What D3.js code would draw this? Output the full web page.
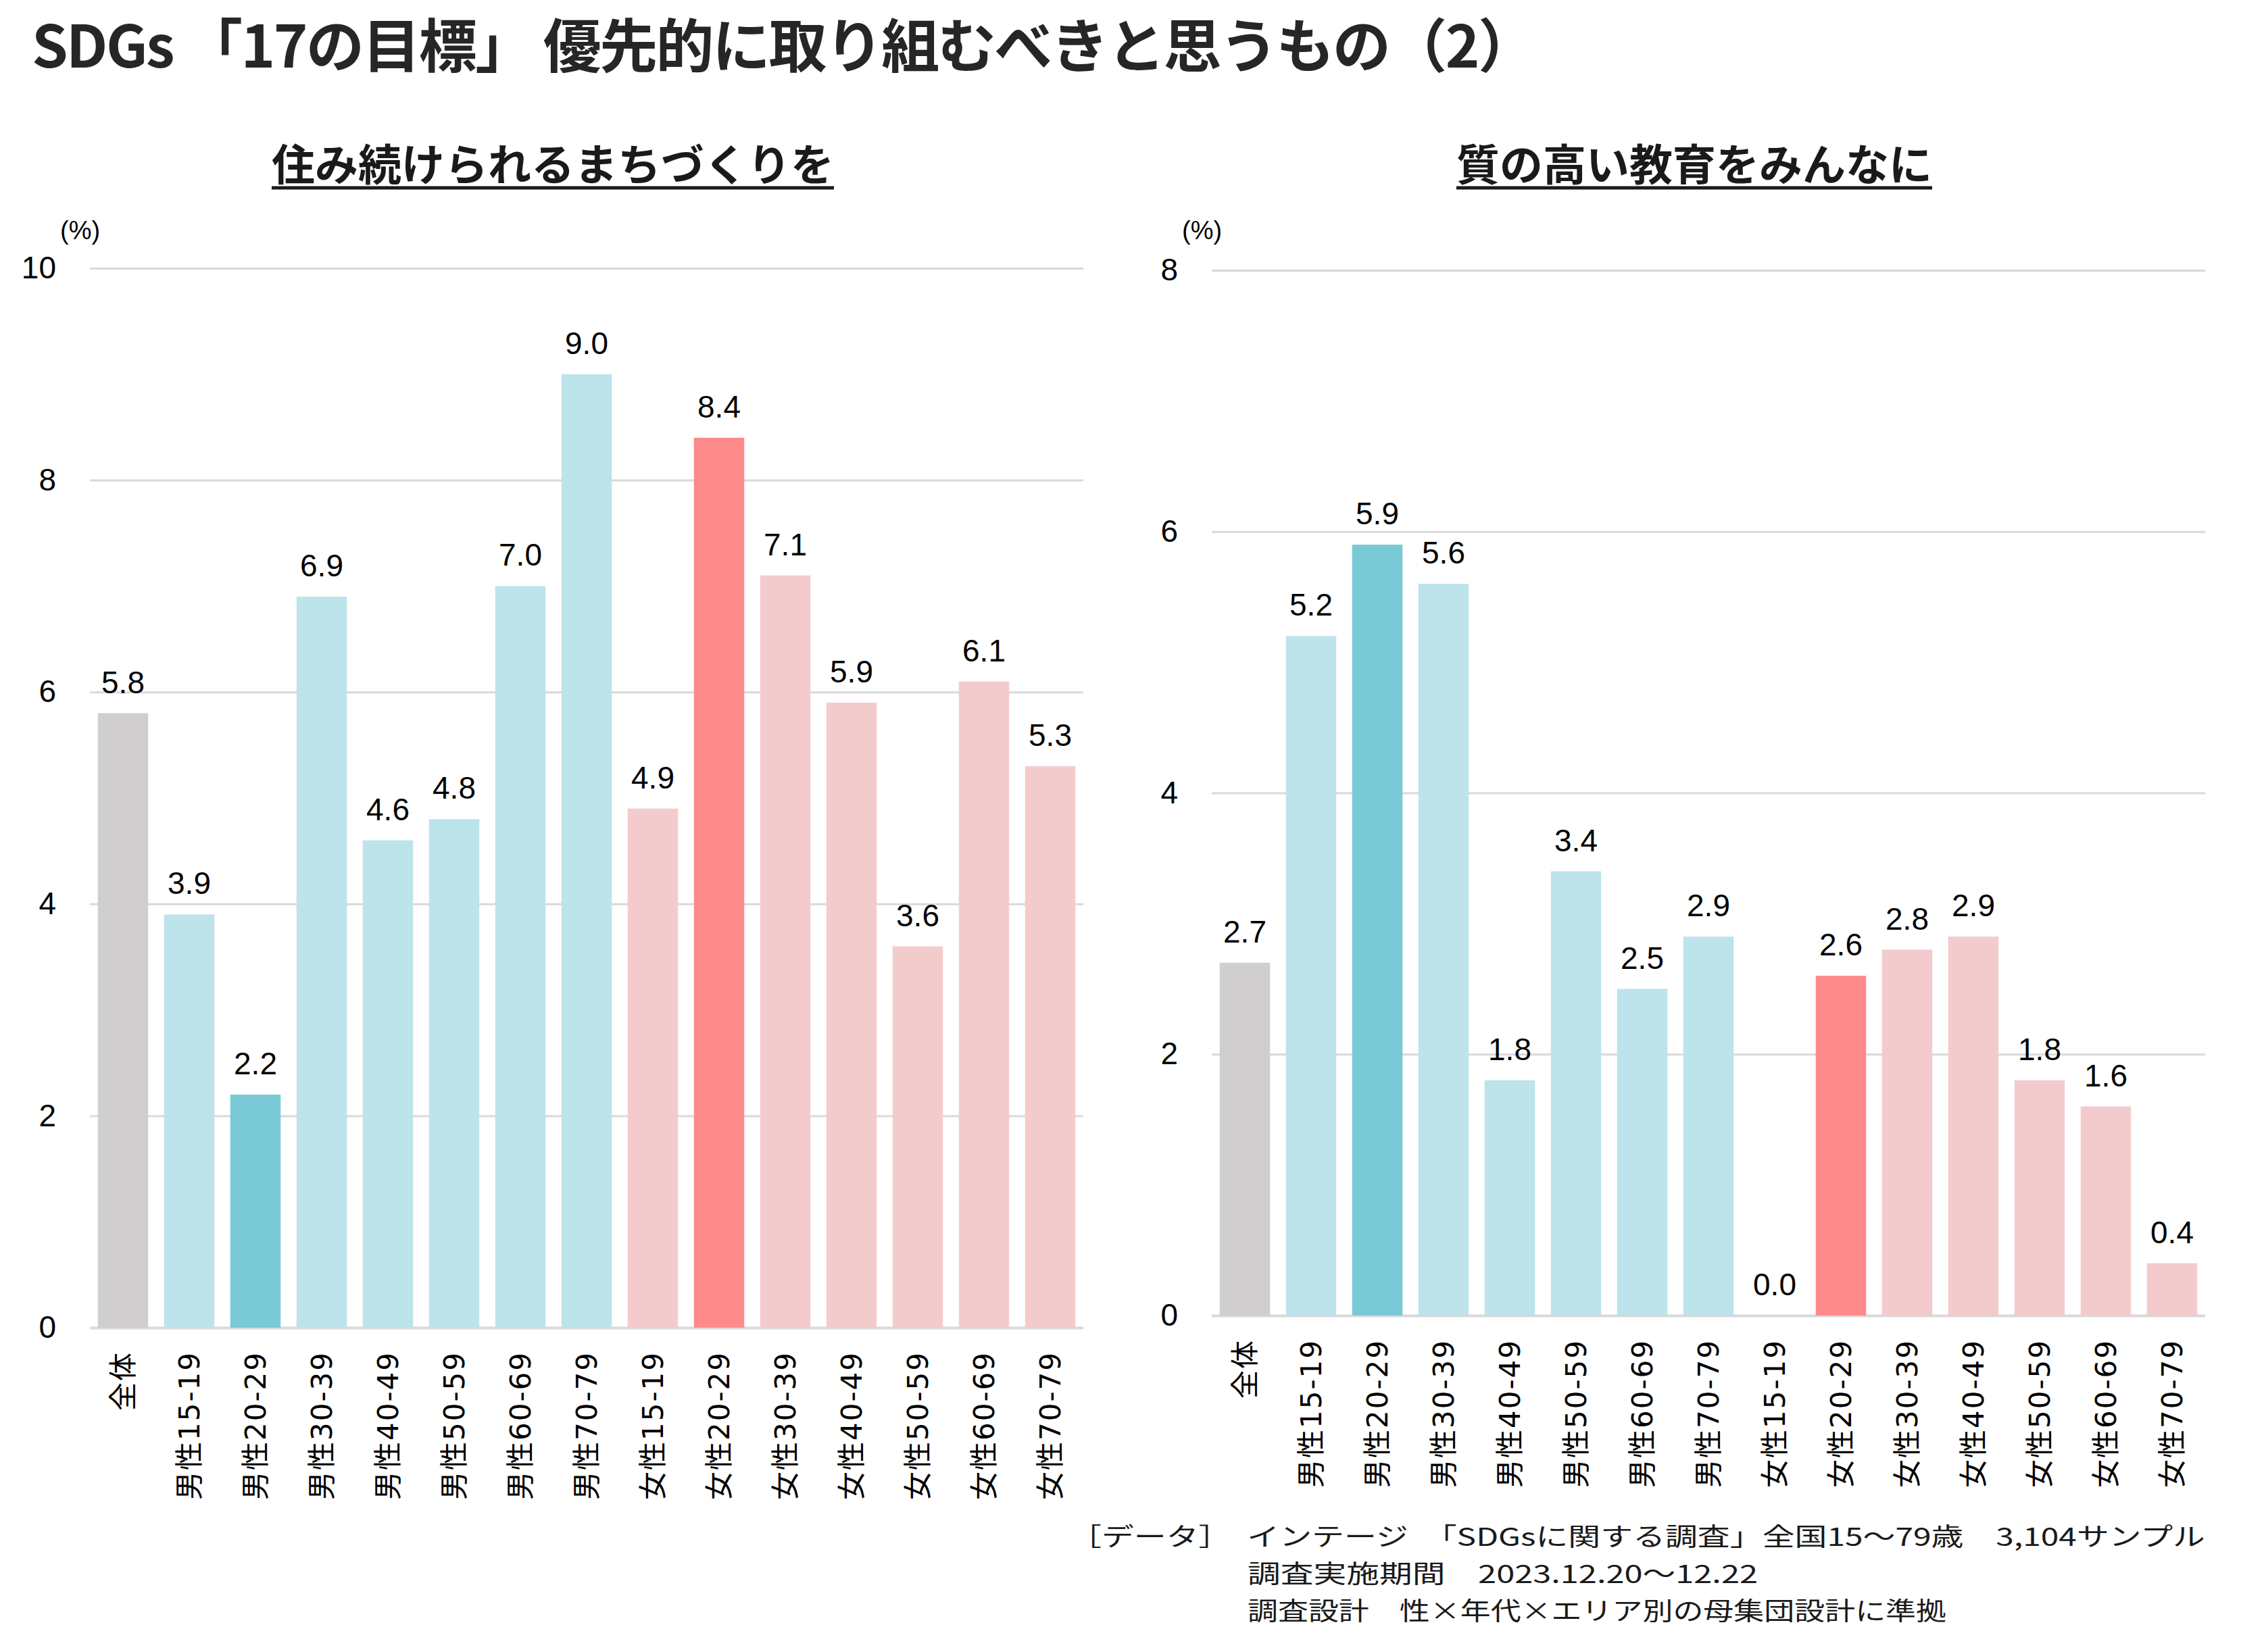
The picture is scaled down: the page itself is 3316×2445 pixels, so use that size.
<!DOCTYPE html>
<html lang="ja">
<head>
<meta charset="utf-8">
<title>SDGs 17の目標 (2)</title>
<script src="https://cdn.jsdelivr.net/npm/d3@7"></script>
<style>
body { margin: 0; background: #fff; }
</style>
</head>
<body>
<div id="svg-wrapper"></div>
<script>
// données
var categories = ["全体", "男性15-19", "男性20-29", "男性30-39", "男性40-49", "男性50-59", "男性60-69", "男性70-79",
                  "女性15-19", "女性20-29", "女性30-39", "女性40-49", "女性50-59", "女性60-69", "女性70-79"];
var valeursGauche = [5.8, 3.9, 2.2, 6.9, 4.6, 4.8, 7.0, 9.0, 4.9, 8.4, 7.1, 5.9, 3.6, 6.1, 5.3];
var valeursDroite = [2.7, 5.2, 5.9, 5.6, 1.8, 3.4, 2.5, 2.9, 0.0, 2.6, 2.8, 2.9, 1.8, 1.6, 0.4];
var ticksGauche = [0, 2, 4, 6, 8, 10];
var ticksDroite = [0, 2, 4, 6, 8];
var titre = "SDGs 「17の目標」 優先的に取り組むべきと思うもの（2）";
var sousTitreGauche = "住み続けられるまちづくりを";
var sousTitreDroite = "質の高い教育をみんなに";
var unite = "(%)";
var notes = [
    "［データ］　インテージ　「SDGsに関する調査」全国15～79歳　3,104サンプル",
    "調査実施期間　2023.12.20～12.22",
    "調査設計　性×年代×エリア別の母集団設計に準拠"
];

var width = 3316,
    height = 2445;

var fontJp = "'Noto Sans CJK JP', sans-serif";
var fontNum = "'Liberation Sans', Arial, sans-serif";

var svg = d3.select("#svg-wrapper")
    .append("svg")
    .attr("width", width)
    .attr("height", height)
    .style("background", "#fff");

// couleur selon la catégorie
function couleur(d, i) {
    if (i === 0) return "#d0cecf";
    if (i === 2) return "#79c9d6";
    if (i === 9) return "#ff8a8a";
    return d.startsWith("男") ? "#bde3eb" : "#f4cbcc";
}

// titre principal
svg.append("text")
    .attr("x", 47)
    .attr("y", 100)
    .attr("font-family", fontJp)
    .attr("font-weight", 700)
    .attr("font-size", 86)
    .attr("fill", "#262626")
    .attr("textLength", 2226)
    .text(titre);

function drawChart(cfg) {
    var g = svg.append("g");

    var x = d3.scaleBand()
        .domain(categories)
        .range([cfg.left, cfg.right])
        .paddingInner(0.24)
        .paddingOuter(0.12);

    var y = d3.scaleLinear()
        .domain([0, cfg.max])
        .range([cfg.bottom, cfg.top]);

    // sous-titre souligné
    var st = g.append("text")
        .attr("x", cfg.subX)
        .attr("y", 267)
        .attr("text-anchor", "middle")
        .attr("font-family", fontJp)
        .attr("font-weight", 700)
        .attr("font-size", 64)
        .attr("fill", "#1a1a1a")
        .text(cfg.sousTitre);
    var w = st.node().getComputedTextLength();
    g.append("line")
        .attr("x1", cfg.subX - w / 2)
        .attr("x2", cfg.subX + w / 2)
        .attr("y1", 278)
        .attr("y2", 278)
        .attr("stroke", "#1a1a1a")
        .attr("stroke-width", 5);

    // axe y + grille
    var axeY = g.append("g")
        .attr("transform", "translate(" + cfg.left + ",0)")
        .call(d3.axisLeft(y)
            .tickValues(cfg.ticks)
            .tickFormat(d3.format("d"))
            .tickSize(-(cfg.right - cfg.left))
            .tickPadding(50));
    axeY.select(".domain").remove();
    axeY.selectAll(".tick line")
        .attr("stroke", "#d9d9d9")
        .attr("stroke-width", function (d) { return d === 0 ? 4 : 3; });
    axeY.selectAll(".tick text")
        .attr("font-family", fontNum)
        .attr("font-size", 46)
        .attr("fill", "#000");

    g.append("text")
        .attr("x", cfg.left - 44)
        .attr("y", 354)
        .attr("font-family", fontNum)
        .attr("font-size", 38)
        .attr("fill", "#000")
        .text(unite);

    // barres
    g.selectAll("rect.barre")
        .data(cfg.values)
        .join("rect")
        .attr("class", "barre")
        .attr("x", function (d, i) { return x(categories[i]); })
        .attr("width", x.bandwidth())
        .attr("y", function (d) { return y(d); })
        .attr("height", function (d) { return y(0) - y(d); })
        .attr("fill", function (d, i) { return couleur(categories[i], i); });

    // valeurs au-dessus
    g.selectAll("text.valeur")
        .data(cfg.values)
        .join("text")
        .attr("class", "valeur")
        .attr("x", function (d, i) { return x(categories[i]) + x.bandwidth() / 2; })
        .attr("y", function (d) { return y(d) - 30; })
        .attr("text-anchor", "middle")
        .attr("font-family", fontNum)
        .attr("font-size", 46)
        .attr("fill", "#000")
        .text(function (d) { return d.toFixed(1); });

    // axe x, libellés verticaux
    var axeX = g.append("g")
        .attr("transform", "translate(0," + cfg.bottom + ")")
        .call(d3.axisBottom(x).tickSize(0).tickPadding(0));
    axeX.select(".domain").remove();
    axeX.selectAll(".tick text")
        .attr("transform", "rotate(-90)")
        .attr("x", -35)
        .attr("y", 0)
        .attr("dy", "0.36em")
        .attr("text-anchor", "end")
        .attr("font-family", "'DejaVu Sans', 'Noto Sans CJK JP', sans-serif")
        .attr("font-size", 42)
        .attr("letter-spacing", 2)
        .attr("fill", "#000");
}

drawChart({
    left: 133, right: 1603, top: 397, bottom: 1965, max: 10,
    values: valeursGauche, ticks: ticksGauche,
    sousTitre: sousTitreGauche, subX: 818
});

drawChart({
    left: 1793, right: 3263, top: 400, bottom: 1947, max: 8,
    values: valeursDroite, ticks: ticksDroite,
    sousTitre: sousTitreDroite, subX: 2507
});

// notes en bas
var notesX = [1582, 1846, 1846];
var notesY = [2288, 2343, 2398];
var notesLen = [1681, 755, 1034];
svg.selectAll("text.note")
    .data(notes)
    .join("text")
    .attr("class", "note")
    .attr("x", function (d, i) { return notesX[i]; })
    .attr("y", function (d, i) { return notesY[i]; })
    .attr("font-family", fontJp)
    .attr("font-size", 37)
    .attr("fill", "#1a1a1a")
    .attr("textLength", function (d, i) { return notesLen[i]; })
    .attr("lengthAdjust", "spacingAndGlyphs")
    .text(function (d) { return d; });
</script>
</body>
</html>
